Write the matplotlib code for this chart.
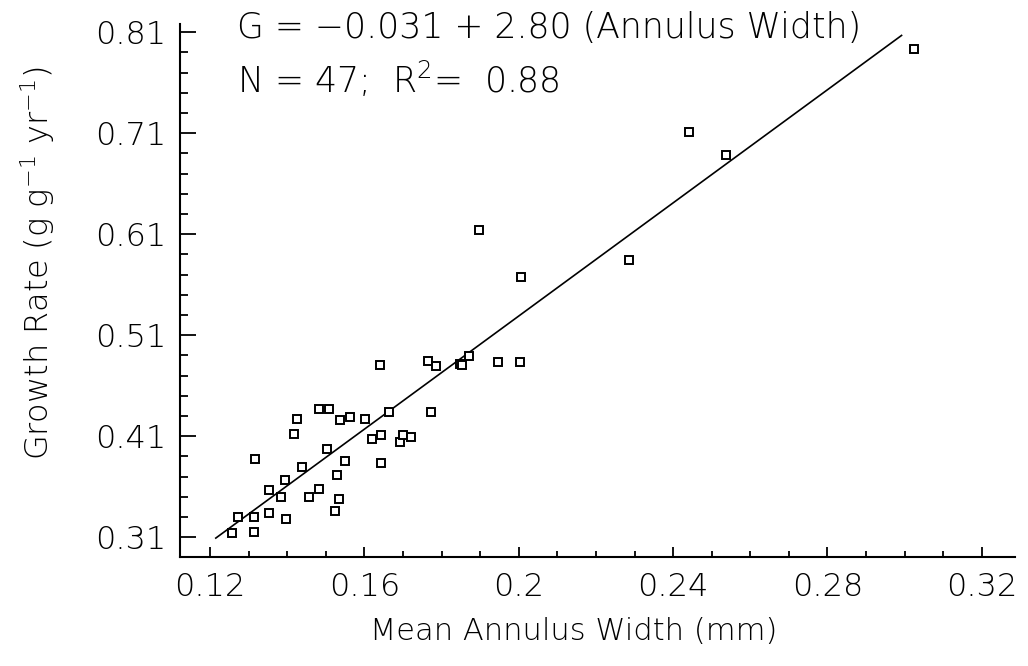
import numpy as np
import matplotlib
matplotlib.use('Agg')
import matplotlib.pyplot as plt
from matplotlib.ticker import FixedLocator

# Mean annulus width (mm) vs growth rate
annulus_width = [0.3023, 0.2440, 0.2537, 0.1896, 0.2285, 0.2005,
                 0.1641, 0.1766, 0.1785, 0.1848, 0.1852, 0.1871, 0.1945, 0.2003,
                 0.1482, 0.1508, 0.1425, 0.1536, 0.1563, 0.1601, 0.1664, 0.1772,
                 0.1418, 0.1620, 0.1644, 0.1693, 0.1700, 0.1722,
                 0.1503, 0.1317, 0.1438, 0.1550, 0.1529, 0.1643,
                 0.1394, 0.1352, 0.1384, 0.1483, 0.1457, 0.1535, 0.1525,
                 0.1273, 0.1315, 0.1354, 0.1397, 0.1258, 0.1315]
growth_rate = [0.7935, 0.7108, 0.6880, 0.6144, 0.5841, 0.5679,
               0.4808, 0.4845, 0.4795, 0.4812, 0.4805, 0.4897, 0.4832, 0.4832,
               0.4367, 0.4367, 0.4274, 0.4264, 0.4287, 0.4274, 0.4343, 0.4337,
               0.4125, 0.4073, 0.4112, 0.4043, 0.4109, 0.4095,
               0.3971, 0.3872, 0.3793, 0.3858, 0.3716, 0.3832,
               0.3667, 0.3565, 0.3499, 0.3578, 0.3496, 0.3479, 0.3363,
               0.3301, 0.3301, 0.3337, 0.3278, 0.3146, 0.3149]

# regression G = -0.031 + 2.80 * width, drawn over this range
intercept = -0.031
slope = 2.80
fit_range = [0.1215, 0.2992]

x_ticks = [0.12, 0.16, 0.20, 0.24, 0.28, 0.32]
x_labels = ['0.12', '0.16', '0.2', '0.24', '0.28', '0.32']
y_ticks = [0.31, 0.41, 0.51, 0.61, 0.71, 0.81]
y_labels = ['0.31', '0.41', '0.51', '0.61', '0.71', '0.81']

plt.rcParams['font.family'] = ['DejaVu Sans']
plt.rcParams['font.weight'] = 'light'
plt.rcParams['mathtext.fontset'] = 'dejavusans'

fig = plt.figure(figsize=(10.28, 6.66), dpi=100)
ax = fig.add_axes([0.175, 0.1637, 0.812, 0.800])

ax.plot(annulus_width, growth_rate, 's', mfc='white', mec='black',
        ms=5.5, mew=1.4, zorder=3)
xf = np.array(fit_range)
ax.plot(xf, intercept + slope * xf, color='black', lw=1.2, zorder=2)

ax.set_xlim(0.1122, 0.3285)
ax.set_ylim(0.2905, 0.8179)

ax.xaxis.set_major_locator(FixedLocator(x_ticks))
ax.set_xticklabels(x_labels)
ax.xaxis.set_minor_locator(FixedLocator(np.arange(0.12, 0.325, 0.01)))
ax.yaxis.set_major_locator(FixedLocator(y_ticks))
ax.set_yticklabels(y_labels)
ax.yaxis.set_minor_locator(FixedLocator(np.arange(0.31, 0.82, 0.02)))

ax.tick_params(axis='both', which='both', direction='in', colors='black',
               labelsize=23, width=1.3)
ax.tick_params(axis='y', which='major', length=11.5, pad=10)
ax.tick_params(axis='y', which='minor', length=6)
ax.tick_params(axis='x', which='major', length=7.5, pad=11)
ax.tick_params(axis='x', which='minor', length=4)

for s in ['top', 'right']:
    ax.spines[s].set_visible(False)
for s in ['left', 'bottom']:
    ax.spines[s].set_linewidth(1.5)

fig.text(574 / 1028, 1 - 632 / 666, 'Mean Annulus Width (mm)', fontsize=22,
         ha='center', va='center')
fig.text(38 / 1028, 1 - 263 / 666, r'Growth Rate (g g$^{-1}$ yr$^{-1}$)',
         fontsize=23, rotation=90, ha='center', va='center')

fig.text(237 / 1028, 1 - 28 / 666, 'G = \u22120.031 + 2.80 (Annulus Width)',
         fontsize=25, ha='left', va='center')
fig.text(237 / 1028, 1 - 80 / 666, r'N = 47;  R$^{2}$=  0.88',
         fontsize=25, ha='left', va='center')

fig.savefig('out.png', dpi=100, facecolor='white')
